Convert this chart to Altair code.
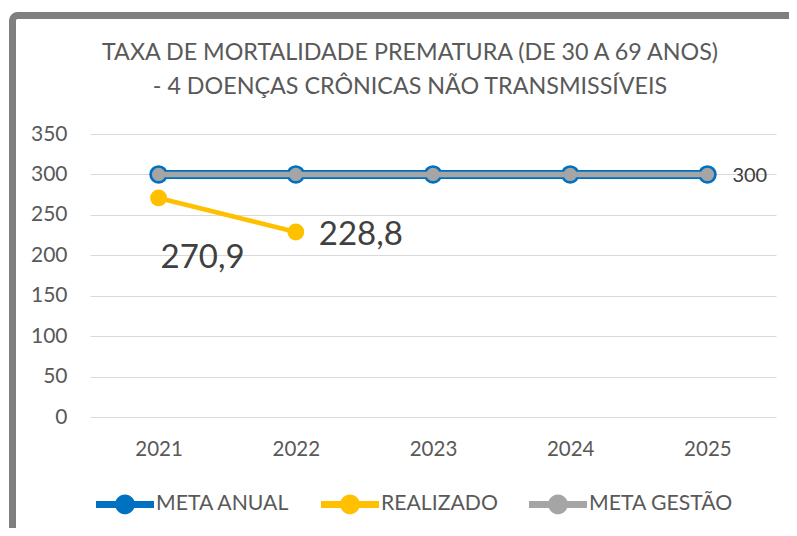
import altair as alt
import pandas as pd

years = ["2021", "2022", "2023", "2024", "2025"]
meta_anual = [300, 300, 300, 300, 300]
realizado = [270.9, 228.8]
meta_gestao = [300, 300, 300, 300, 300]
series = ["META ANUAL", "REALIZADO", "META GESTÃO"]
colors = ["#0070C0", "#FFC000", "#A5A5A5"]
title_lines = ["TAXA DE MORTALIDADE PREMATURA (DE 30 A 69 ANOS)",
               "- 4 DOENÇAS CRÔNICAS NÃO TRANSMISSÍVEIS"]
y_ticks = [0, 50, 100, 150, 200, 250, 300, 350]

rows = []
for name, vals in zip(series, [meta_anual, realizado, meta_gestao]):
    for yr, v in zip(years, vals):
        rows.append({"series": name, "year": yr, "value": v,
                     "label": ("%g" % v).replace(".", ",")})
df = pd.DataFrame(rows)

FONT = "Lato"
GREY_TXT = "#595959"
col = dict(zip(series, colors))

x_enc = alt.X("year:N", sort=years,
              axis=alt.Axis(title=None, labelAngle=0, domain=False, ticks=False,
                            labelPadding=22, labelFont=FONT, labelFontSize=20.5,
                            labelColor=GREY_TXT))
y_enc = alt.Y("value:Q", scale=alt.Scale(domain=[0, 350], nice=False),
              axis=alt.Axis(title=None, values=y_ticks, domain=False, ticks=False,
                            grid=True, gridColor="#D9D9D9", gridWidth=1,
                            labelPadding=23, labelFont=FONT, labelFontSize=21,
                            labelColor=GREY_TXT))
cscale = alt.Scale(domain=series, range=colors)

legend_path = ("M-1,-0.12H1V0.12H-1Z"
               "M-0.34,0A0.34,0.34 0 1,1 0.34,0A0.34,0.34 0 1,1 -0.34,0Z")
legend = alt.Legend(title=None, orient="none", legendX=6, legendY=341,
                    direction="horizontal",
                    symbolType=legend_path, symbolSize=3364, symbolStrokeWidth=0,
                    symbolOpacity=1,
                    labelFont=FONT, labelFontSize=21.2, labelColor=GREY_TXT,
                    labelOffset=2, columnPadding=31)

base = alt.Chart(df).encode(x=x_enc, y=y_enc)


def sel(name):
    return base.transform_filter(alt.datum.series == name)


def line(name, w):
    return sel(name).mark_line(strokeWidth=w, color=col[name])


def pts(name, size):
    return sel(name).mark_point(filled=True, size=size, opacity=1).encode(
        color=alt.Color("series:N", scale=cscale, legend=legend))


frame = alt.Chart(pd.DataFrame({"a": [0]})).mark_rect(
    fill=None, stroke="#7F7F7F", strokeWidth=7, cornerRadius=5
).encode(x=alt.value(-77.5), x2=alt.value(900), y=alt.value(-118.5), y2=alt.value(600))

lbl_style = dict(font=FONT, color="#404040", baseline="alphabetic")
lbl1 = base.transform_filter((alt.datum.series == "REALIZADO") & (alt.datum.year == "2021")) \
    .mark_text(dx=44, dy=70, fontSize=33, **lbl_style).encode(text="label:N")
lbl2 = base.transform_filter((alt.datum.series == "REALIZADO") & (alt.datum.year == "2022")) \
    .mark_text(dx=65, dy=13, fontSize=33, **lbl_style).encode(text="label:N")
lbl3 = base.transform_filter((alt.datum.series == "META GESTÃO") & (alt.datum.year == "2025")) \
    .mark_text(dx=25, dy=8, fontSize=20, align="left", **lbl_style).encode(text="label:N")

chart = alt.layer(
    frame,
    line("META ANUAL", 9), pts("META ANUAL", 346),
    line("META GESTÃO", 5.5), pts("META GESTÃO", 177),
    line("REALIZADO", 4.5), pts("REALIZADO", 283),
    lbl1, lbl2, lbl3,
).properties(
    width=686, height=283,
    autosize=alt.AutoSizeParams(type="none"),
    padding={"left": 82, "top": 126, "right": 13, "bottom": 111},
    background="white",
    title=alt.TitleParams(text=title_lines, font=FONT, fontSize=23.3, color=GREY_TXT,
                          fontWeight="normal", anchor="middle", dx=-23, offset=-87,
                          lineHeight=34, frame="group"),
).configure_view(strokeWidth=0)

chart.save("out.html", embed_options={"renderer": "svg", "actions": False})
